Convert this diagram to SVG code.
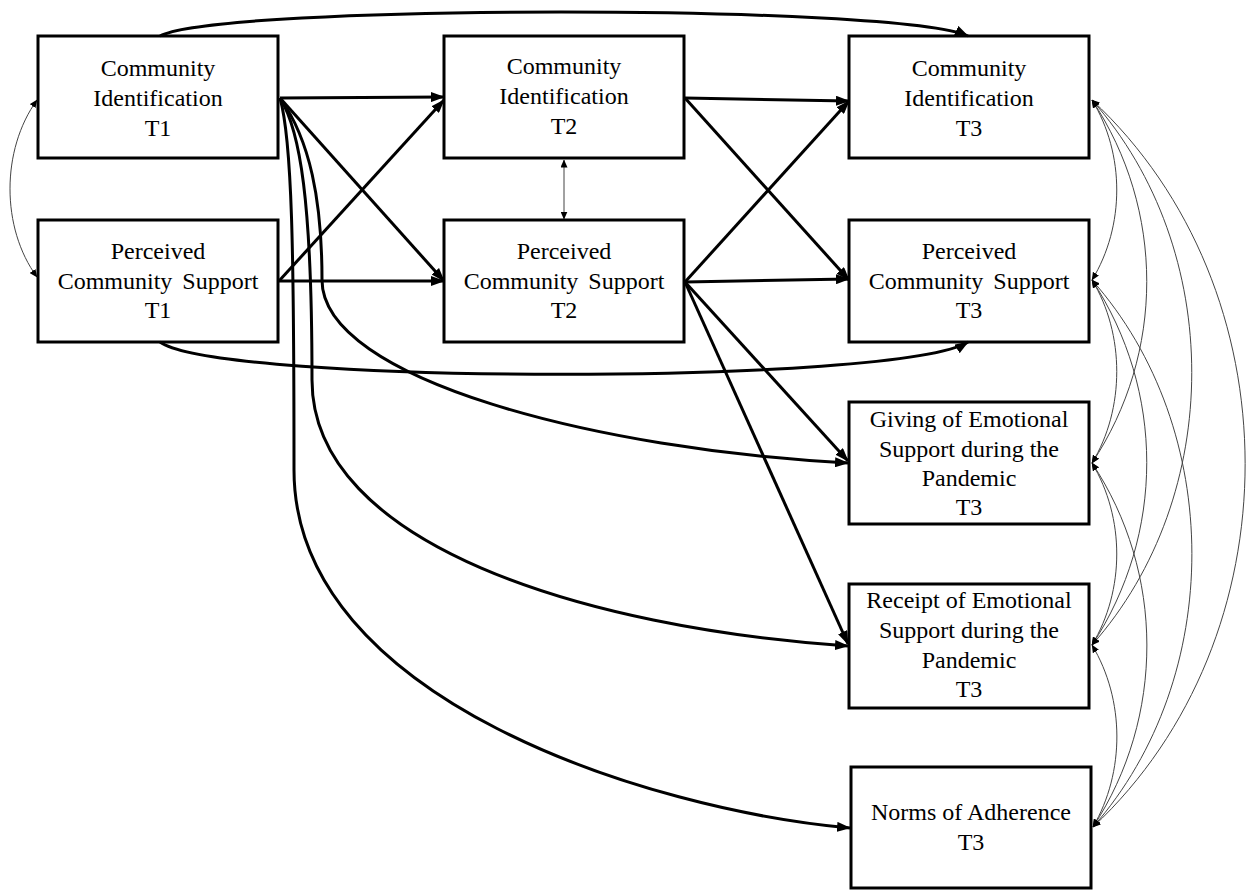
<svg xmlns="http://www.w3.org/2000/svg" width="1247" height="890" viewBox="0 0 1247 890">
<style>
.box{fill:#fff;stroke:#000;stroke-width:3}
.t{font-family:"Liberation Serif","Times New Roman",serif;font-size:24px;fill:#000;text-anchor:middle}
.p{fill:none;stroke:#000;stroke-width:3;marker-end:url(#ah)}
.c{fill:none;stroke:#444;stroke-width:1;marker-start:url(#sh);marker-end:url(#sh)}
</style>
<defs>
<marker id="ah" viewBox="0 0 14 10" refX="13" refY="5" markerWidth="14" markerHeight="10" markerUnits="userSpaceOnUse" orient="auto">
<path d="M0,0 L14,5 L0,10 z" fill="#000"/>
</marker>
<marker id="sh" viewBox="0 0 8 7" refX="7.5" refY="3.5" markerWidth="8" markerHeight="7" markerUnits="userSpaceOnUse" orient="auto-start-reverse">
<path d="M0,0 L8,3.5 L0,7 z" fill="#000"/>
</marker>
</defs>
<g id="nodes">
<g id="ci1"><rect class="box" x="38" y="36" width="240" height="122"/>
<text class="t" x="158" y="76">Community</text><text class="t" x="158" y="106">Identification</text><text class="t" x="158" y="136">T1</text></g>
<g id="pcs1"><rect class="box" x="38" y="220" width="240" height="122"/>
<text class="t" x="158" y="259">Perceived</text><text class="t" x="158" y="289" word-spacing="4">Community Support</text><text class="t" x="158" y="318">T1</text></g>
<g id="ci2"><rect class="box" x="444" y="36" width="240" height="122"/>
<text class="t" x="564" y="74">Community</text><text class="t" x="564" y="104">Identification</text><text class="t" x="564" y="134">T2</text></g>
<g id="pcs2"><rect class="box" x="444" y="220" width="240" height="122"/>
<text class="t" x="564" y="259">Perceived</text><text class="t" x="564" y="289" word-spacing="4">Community Support</text><text class="t" x="564" y="318">T2</text></g>
<g id="ci3"><rect class="box" x="849" y="36" width="240" height="122"/>
<text class="t" x="969" y="76">Community</text><text class="t" x="969" y="106">Identification</text><text class="t" x="969" y="136">T3</text></g>
<g id="pcs3"><rect class="box" x="849" y="220" width="240" height="122"/>
<text class="t" x="969" y="259">Perceived</text><text class="t" x="969" y="289" word-spacing="4">Community Support</text><text class="t" x="969" y="318">T3</text></g>
<g id="give"><rect class="box" x="849" y="402" width="240" height="122"/>
<text class="t" x="969" y="427">Giving of Emotional</text><text class="t" x="969" y="457">Support during the</text><text class="t" x="969" y="486">Pandemic</text><text class="t" x="969" y="515">T3</text></g>
<g id="rec"><rect class="box" x="849" y="584" width="240" height="124"/>
<text class="t" x="969" y="608">Receipt of Emotional</text><text class="t" x="969" y="638">Support during the</text><text class="t" x="969" y="668">Pandemic</text><text class="t" x="969" y="697">T3</text></g>
<g id="norms"><rect class="box" x="851" y="767" width="240" height="121"/>
<text class="t" x="971" y="820">Norms of Adherence</text><text class="t" x="971" y="850">T3</text></g>
</g>
<g id="connectors">
<path class="p" d="M280,98 L444,97"/>
<path class="p" d="M280,98 L444,281"/>
<path class="p" d="M279,281 L444,100"/>
<path class="p" d="M279,281 L444,281"/>
<path class="p" d="M685,98 L849,101"/>
<path class="p" d="M685,98 L849,280"/>
<path class="p" d="M685,282 L849,101"/>
<path class="p" d="M685,282 L849,279"/>
<path class="p" d="M685,282 L848,461"/>
<path class="p" d="M685,282 L848,644"/>
<path class="p" d="M160,36 C220,4 900,4 968,36"/>
<path class="p" d="M160,342 C220,385 900,385 968,342"/>
<path class="p" d="M280,98 C310,140 322,200 322,280 C322,380 600,450 848,463"/>
<path class="p" d="M280,98 C300,130 312,200 312,380 C312,545 585,628 848,646"/>
<path class="p" d="M280,98 C292,140 294,250 294,470 C294,700 650,810 850,828"/>
<path class="c" d="M37,100 C1,150 1,228 37,277"/>
<path class="c" d="M564,160 L564,219"/>
<path class="c" d="M1092,100 C1125,154 1125,226 1092,280"/>
<path class="c" d="M1092,280 C1125,334 1125,409 1092,463"/>
<path class="c" d="M1092,463 C1125,518 1125,590 1092,645"/>
<path class="c" d="M1092,645 C1125,700 1125,772 1093,827"/>
<path class="c" d="M1092,100 C1165,210 1165,353 1092,463"/>
<path class="c" d="M1092,280 C1165,391 1165,534 1092,645"/>
<path class="c" d="M1092,463 C1165,573 1165,717 1093,827"/>
<path class="c" d="M1092,100 C1225,250 1225,495 1092,645"/>
<path class="c" d="M1092,280 C1225,430 1225,677 1093,827"/>
<path class="c" d="M1092,100 C1296,290 1296,637 1093,827"/>
</g>
</svg>
